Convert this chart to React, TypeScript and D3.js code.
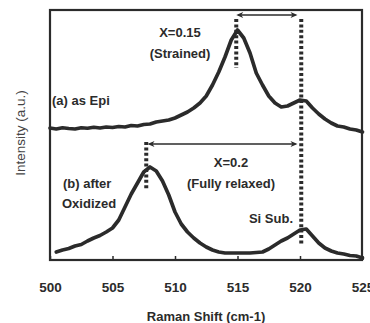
import React, { useEffect, useRef } from "react";
import * as d3 from "d3";

// Raman spectra (intensity in arbitrary units, 0-100)
const shiftA = [
  500, 500.5, 501, 501.5, 502, 502.5, 503, 503.5, 504, 504.5, 505, 505.5, 506,
  506.5, 507, 507.5, 508, 508.5, 509, 509.5, 510, 510.5, 511, 511.5, 512, 512.5,
  513, 513.5, 514, 514.5, 515, 515.5, 516, 516.5, 517, 517.5, 518, 518.5, 519,
  519.5, 520, 520.5, 521, 521.5, 522, 522.5, 523, 523.5, 524, 524.5, 525,
];
const epiIntensity = [
  52.8, 52.4, 52.9, 52.6, 52.4, 52.9, 52.7, 53.1, 52.8, 53.2, 53.0, 53.4, 53.2,
  53.8, 53.6, 54.2, 54.4, 55.2, 55.6, 56.0, 56.8, 58.0, 59.2, 60.8, 62.8, 65.6,
  70.0, 75.2, 81.2, 88.0, 92.0, 88.8, 82.8, 74.8, 70.0, 65.6, 62.8, 61.2, 61.6,
  62.8, 64.0, 63.6, 60.8, 58.4, 56.4, 54.8, 53.6, 53.2, 52.4, 52.0, 51.2,
];
const shiftB = [
  500.5, 501, 501.5, 502, 502.5, 503, 503.5, 504, 504.5, 505, 505.5, 506, 506.5,
  507, 507.5, 508, 508.5, 509, 509.5, 510, 510.5, 511, 511.5, 512, 512.5, 513,
  513.5, 514, 514.5, 515, 515.5, 516, 516.5, 517, 517.5, 518, 518.5, 519, 519.5,
  520, 520.5, 521, 521.5, 522, 522.5, 523, 523.5, 524, 524.5, 525,
];
const oxidizedIntensity = [
  3.2, 4.0, 4.6, 5.6, 6.2, 7.6, 8.8, 9.8, 11.2, 12.8, 16.0, 21.2, 26.4, 30.8,
  35.2, 37.2, 35.6, 31.6, 26.0, 19.2, 14.4, 11.2, 8.8, 6.8, 5.2, 4.0, 3.2, 2.8,
  2.8, 2.8, 2.8, 2.8, 3.0, 3.2, 4.4, 6.0, 7.6, 8.8, 10.4, 12.0, 12.4, 9.6, 6.8,
  4.8, 3.6, 2.8, 2.4, 1.8, 1.6, 0.8,
];
const xTicks = [500, 505, 510, 515, 520, 525];

// dotted peak markers and double arrows
const markers = [
  { x: 514.9, y0: 76.8, y1: 96.4 },
  { x: 520.1, y0: 6, y1: 96.4 },
  { x: 507.7, y0: 28, y1: 47.2 },
];
const arrows = [
  { x0: 514.9, x1: 519.8, y: 98 },
  { x0: 507.8, x1: 519.8, y: 46.4 },
];
const labels = [
  { text: "X=0.15", x: 510.4, y: 91.2, anchor: "middle" },
  { text: "(Strained)", x: 510.4, y: 82.8, anchor: "middle" },
  { text: "(a) as Epi", x: 500.16, y: 64, anchor: "start" },
  { text: "X=0.2", x: 514.48, y: 39.2, anchor: "middle" },
  { text: "(Fully relaxed)", x: 514.48, y: 30.8, anchor: "middle" },
  { text: "(b) after", x: 501.04, y: 30.8, anchor: "start" },
  { text: "Oxidized", x: 500.96, y: 22.8, anchor: "start" },
  { text: "Si Sub.", x: 519.44, y: 16.8, anchor: "end" },
];

const W = 370;
const H = 323;
const ink = "#2b2b2b";
const font = "'Liberation Sans', Arial, sans-serif";

export default function App() {
  const svgRef = useRef<SVGSVGElement>(null);

  useEffect(() => {
    if (!svgRef.current) return;
    const svg = d3.select(svgRef.current);
    svg.selectAll("*").remove();

    const left = 50,
      right = 362.5,
      top = 10,
      bottom = 260;

    const x = d3.scaleLinear().domain([500, 525]).range([left, right]);
    const y = d3.scaleLinear().domain([0, 100]).range([bottom, top]);

    // frame
    svg
      .append("rect")
      .attr("x", left)
      .attr("y", top)
      .attr("width", 362 - left)
      .attr("height", bottom - top)
      .attr("fill", "none")
      .attr("stroke", ink)
      .attr("stroke-width", 2.2);

    // bottom axis, ticks pointing inward
    const axis = svg
      .append("g")
      .attr("transform", `translate(0,${bottom})`)
      .call(
        d3
          .axisBottom(x)
          .tickValues(xTicks)
          .tickSizeInner(-4)
          .tickSizeOuter(0)
          .tickPadding(22)
          .tickFormat(d3.format("d"))
      );
    axis.select(".domain").remove();
    axis.selectAll(".tick line").attr("stroke", ink).attr("stroke-width", 1.5);
    axis
      .selectAll(".tick text")
      .attr("fill", ink)
      .style("font-family", font)
      .style("font-size", "13.5px")
      .style("font-weight", "bold");

    // dotted markers
    svg
      .append("g")
      .selectAll("line")
      .data(markers)
      .enter()
      .append("line")
      .attr("x1", (d) => x(d.x))
      .attr("x2", (d) => x(d.x))
      .attr("y1", (d) => y(d.y1))
      .attr("y2", (d) => y(d.y0))
      .attr("stroke", ink)
      .attr("stroke-width", 4)
      .attr("stroke-dasharray", "3,2.4");

    // spectra
    const line = d3
      .line<[number, number]>()
      .x((d) => x(d[0]))
      .y((d) => y(d[1]));
    const series = [
      shiftA.map((s, i) => [s, epiIntensity[i]] as [number, number]),
      shiftB.map((s, i) => [s, oxidizedIntensity[i]] as [number, number]),
    ];
    svg
      .append("g")
      .selectAll("path")
      .data(series)
      .enter()
      .append("path")
      .attr("d", (d) => line(d))
      .attr("fill", "none")
      .attr("stroke", ink)
      .attr("stroke-width", 3.7)
      .attr("stroke-linejoin", "round")
      .attr("stroke-linecap", "round");

    // double-headed arrows
    const ag = svg.append("g");
    arrows.forEach((a) => {
      const x0 = x(a.x0),
        x1 = x(a.x1),
        yy = y(a.y);
      ag.append("line")
        .attr("x1", x0 + 2)
        .attr("x2", x1 - 2)
        .attr("y1", yy)
        .attr("y2", yy)
        .attr("stroke", ink)
        .attr("stroke-width", 1.5);
      ag.append("path")
        .attr("d", `M${x0},${yy}L${x0 + 7},${yy - 3}L${x0 + 5},${yy}L${x0 + 7},${yy + 3}Z`)
        .attr("fill", ink);
      ag.append("path")
        .attr("d", `M${x1},${yy}L${x1 - 7},${yy - 3}L${x1 - 5},${yy}L${x1 - 7},${yy + 3}Z`)
        .attr("fill", ink);
    });

    // annotations
    svg
      .append("g")
      .selectAll("text")
      .data(labels)
      .enter()
      .append("text")
      .attr("x", (d) => x(d.x))
      .attr("y", (d) => y(d.y))
      .attr("dy", "0.35em")
      .attr("text-anchor", (d) => d.anchor)
      .attr("fill", ink)
      .style("font-family", font)
      .style("font-size", "13px")
      .style("font-weight", "bold")
      .text((d) => d.text);

    // axis titles
    svg
      .append("text")
      .attr("x", 206)
      .attr("y", 316)
      .attr("dy", "0.35em")
      .attr("text-anchor", "middle")
      .attr("fill", ink)
      .style("font-family", font)
      .style("font-size", "13px")
      .style("font-weight", "bold")
      .text("Raman Shift (cm-1)");

    svg
      .append("text")
      .attr("transform", "translate(20,133) rotate(-90)")
      .attr("dy", "0.35em")
      .attr("text-anchor", "middle")
      .attr("fill", "#444")
      .style("font-family", font)
      .style("font-size", "13.5px")
      .text("Intensity (a.u.)");
  }, []);

  return (
    <svg
      ref={svgRef}
      width={W}
      height={H}
      style={{ position: "absolute", left: 0, top: 0, background: "#fff" }}
    />
  );
}
